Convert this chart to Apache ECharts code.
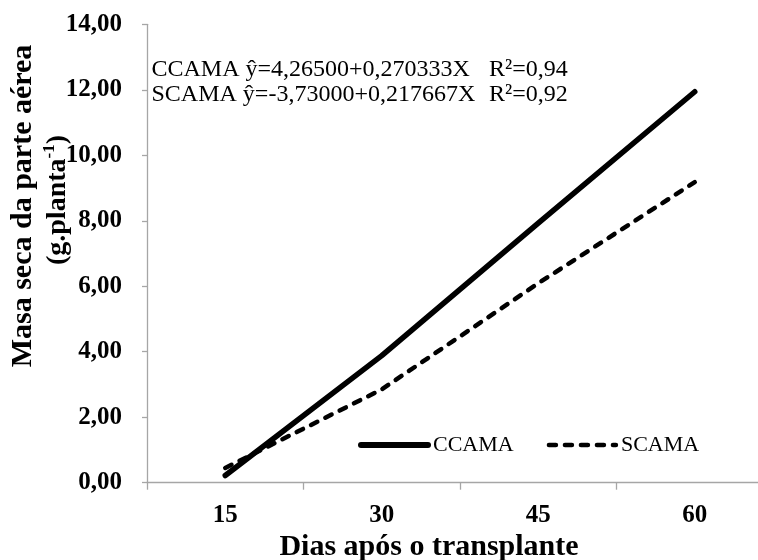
<!DOCTYPE html>
<html>
<head>
<meta charset="utf-8">
<script src="https://cdn.jsdelivr.net/npm/echarts@6/dist/echarts.min.js"></script>
<style>
html,body{margin:0;padding:0;background:#fff;}
#c{width:758px;height:560px;}
</style>
</head>
<body>
<div id="c"></div>
<script>
var days = ['15', '30', '45', '60'];
var ccama = [0.22, 3.88, 7.93, 11.94];
var scama = [0.45, 2.85, 6.09, 9.18];
var yTickLabels = ['0,00', '2,00', '4,00', '6,00', '8,00', '10,00', '12,00', '14,00'];
var seriesNames = ['CCAMA', 'SCAMA'];
var eqCCAMA = 'CCAMA ŷ=4,26500+0,270333X';
var eqSCAMA = 'SCAMA ŷ=-3,73000+0,217667X';
var r2CCAMA = 'R²=0,94';
var r2SCAMA = 'R²=0,92';
var xTitle = 'Dias após o transplante';
var yTitle1 = 'Masa seca da parte aérea';

var FONT = "'Liberation Serif', 'Times New Roman', serif";
var GRAY = '#a6a6a6';

var chart = echarts.init(document.getElementById('c'));
chart.setOption({
  animation: false,
  backgroundColor: '#ffffff',
  grid: {left: 147, right: -15, top: 24.3, bottom: 77.3, containLabel: false, outerBoundsMode: 'none'},
  xAxis: {
    type: 'category',
    data: days,
    boundaryGap: true,
    axisLine: {lineStyle: {color: GRAY, width: 1.3}},
    axisTick: {show: true, length: 7, lineStyle: {color: GRAY, width: 1.3}},
    axisLabel: {color: '#000', fontFamily: FONT, fontWeight: 'bold', fontSize: 25, margin: 20},
    splitLine: {show: false}
  },
  yAxis: {
    type: 'value',
    min: 0, max: 14, interval: 2,
    axisLine: {show: true, lineStyle: {color: GRAY, width: 1.3}},
    axisTick: {show: true, length: 5, lineStyle: {color: GRAY, width: 1.3}},
    axisLabel: {
      color: '#000', fontFamily: FONT, fontWeight: 'bold', fontSize: 25, margin: 25,
      formatter: function (v) { return yTickLabels[Math.round(v / 2)]; }
    },
    splitLine: {show: false}
  },
  legend: {
    left: 353, top: 429,
    itemWidth: 67, itemHeight: 14, itemGap: 33,
    textStyle: {color: '#000', fontFamily: FONT, fontSize: 22},
    data: [
      {name: seriesNames[0], itemStyle: {opacity: 0}, lineStyle: {width: 6, type: 'solid', cap: 'round'}},
      {name: seriesNames[1], itemStyle: {opacity: 0}, lineStyle: {width: 4.5, type: [7, 9], cap: 'round'}}
    ]
  },
  series: [
    {
      name: seriesNames[0], type: 'line', data: ccama, symbol: 'none',
      lineStyle: {color: '#000', width: 5.5, cap: 'round', join: 'round'},
      itemStyle: {color: '#000'}
    },
    {
      name: seriesNames[1], type: 'line', data: scama, symbol: 'none',
      lineStyle: {color: '#000', width: 4.5, type: [7, 9], cap: 'round', join: 'round'},
      itemStyle: {color: '#000'}
    }
  ],
  graphic: [
    {type: 'text', left: 151.5, top: 58, style: {text: eqCCAMA, font: "24px " + FONT, fill: '#000'}},
    {type: 'text', left: 151.5, top: 83, style: {text: eqSCAMA, font: "24px " + FONT, fill: '#000'}},
    {type: 'text', left: 489, top: 58, style: {text: r2CCAMA, font: "24px " + FONT, fill: '#000'}},
    {type: 'text', left: 489, top: 83, style: {text: r2SCAMA, font: "24px " + FONT, fill: '#000'}},
    {type: 'text', x: 429, y: 547, style: {text: xTitle, font: "bold 30px " + FONT, fill: '#000', align: 'center', verticalAlign: 'middle'}},
    {type: 'text', x: 23.5, y: 206, rotation: Math.PI / 2,
      style: {text: yTitle1, font: "bold 30px " + FONT, fill: '#000', align: 'center', verticalAlign: 'middle'}},
    {type: 'text', x: 58, y: 200, rotation: Math.PI / 2,
      style: {
        text: '{m|(g.planta}{s|-1}{m|)}',
        align: 'center', verticalAlign: 'middle',
        rich: {
          m: {font: "bold 28px " + FONT, fill: '#000', lineHeight: 34},
          s: {font: "bold 17px " + FONT, fill: '#000', verticalAlign: 'top', lineHeight: 34, padding: [0, 0, 14, 0]}
        }
      }}
  ]
});
</script>
</body>
</html>
